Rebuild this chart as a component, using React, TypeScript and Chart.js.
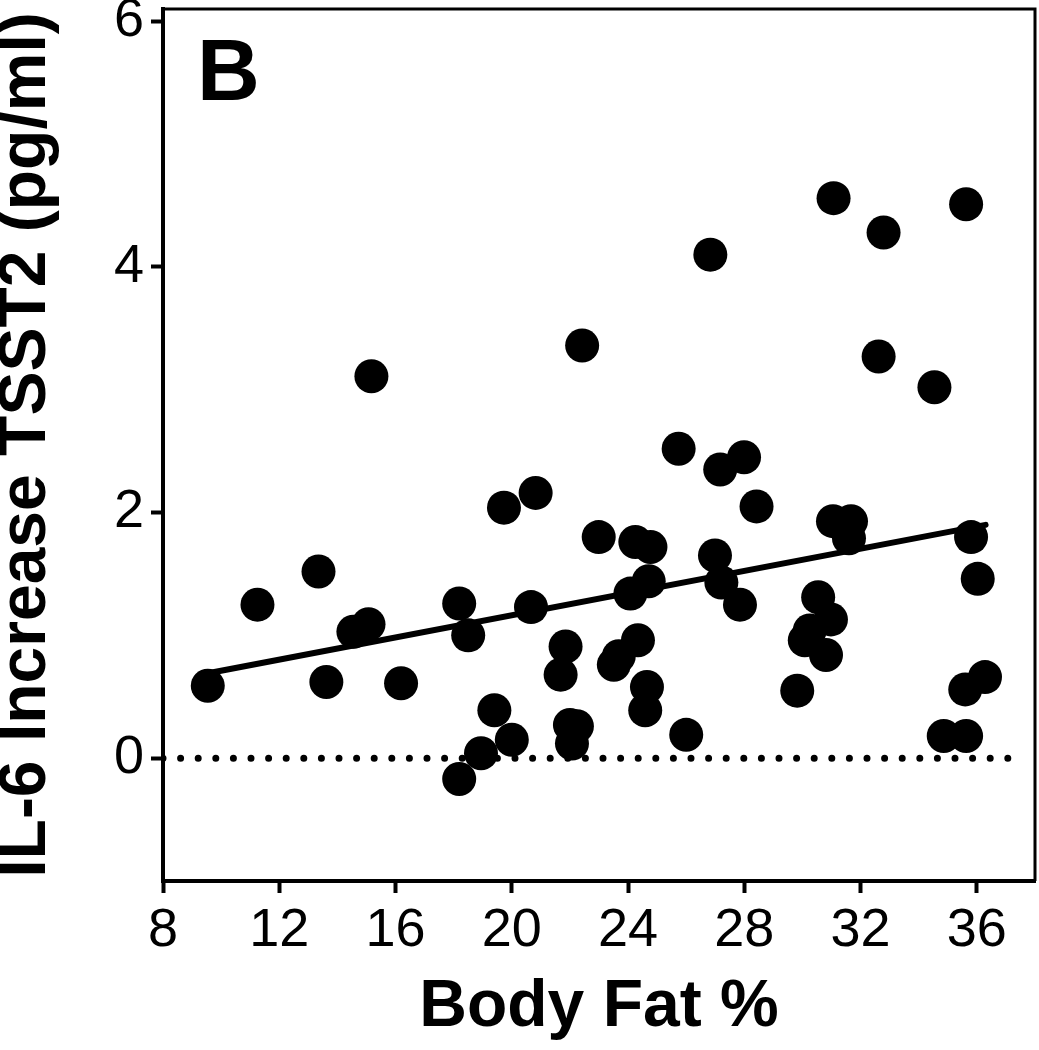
import React, { useEffect, useRef } from 'react';
import { Chart, registerables } from 'chart.js';

Chart.register(...registerables);

// ---- Data ----
const bodyFat = [
  9.54, 11.25, 13.35, 13.62, 14.55, 15.07, 15.17, 16.19, 18.19, 18.5,
  18.19, 18.94, 19.4, 19.73, 20.0, 20.82, 20.66, 21.85, 21.68, 22.0,
  22.24, 22.07, 22.99, 22.42, 23.51, 23.68, 24.08, 24.71, 24.25, 24.77,
  24.34, 24.65, 24.59, 26.0, 25.74, 26.99, 27.21, 27.85, 28.42, 27.17,
  27.99, 26.83, 29.82, 30.54, 30.25, 30.98, 30.81, 30.08, 31.05, 31.67,
  31.6, 31.07, 32.79, 35.63, 32.62, 34.54, 35.8, 36.03, 36.28, 35.6,
  34.86, 35.63,
];
const il6Increase = [
  0.59, 1.25, 1.52, 0.62, 1.03, 1.09, 3.11, 0.61, 1.26, 1.0,
  -0.17, 0.04, 0.39, 2.04, 0.15, 2.16, 1.23, 0.91, 0.68, 0.27,
  0.26, 0.12, 1.8, 3.36, 0.76, 0.83, 1.34, 1.44, 1.76, 1.72,
  0.96, 0.58, 0.39, 0.19, 2.52, 1.65, 1.43, 1.25, 2.05, 2.35,
  2.45, 4.1, 0.55, 1.31, 1.04, 1.13, 0.84, 0.96, 1.93, 1.93,
  1.79, 4.56, 4.28, 4.51, 3.27, 3.02, 1.8, 1.46, 0.66, 0.56,
  0.18, 0.18,
];
const fitX = [9.5, 36.3];
const fitY = [0.69, 1.9];
const zeroX = [8, 37.47];
const zeroY = [0, 0];
const xTicks = [8, 12, 16, 20, 24, 28, 32, 36];
const yTicks = [0, 2, 4, 6];
const xTitle = 'Body Fat %';
const yTitle = 'IL-6 Increase TSST2 (pg/ml)';
const panelLabel = 'B';

const FONT = '"Liberation Sans", Arial, Helvetica, sans-serif';

const framePlugin = {
  id: 'frameAndLabel',
  afterDraw(chart: any) {
    const { ctx, chartArea } = chart;
    ctx.save();
    ctx.strokeStyle = '#000';
    ctx.lineWidth = 3;
    ctx.beginPath();
    ctx.moveTo(chartArea.left, chartArea.top);
    ctx.lineTo(chartArea.right + 1.5, chartArea.top);
    ctx.moveTo(chartArea.right, chartArea.top);
    ctx.lineTo(chartArea.right, chartArea.bottom);
    ctx.stroke();
    ctx.fillStyle = '#000';
    ctx.font = 'bold 87px ' + FONT;
    ctx.textAlign = 'left';
    ctx.textBaseline = 'alphabetic';
    ctx.fillText(panelLabel, 197, 100);
    ctx.restore();
  },
};

const zeroPad = (s: any) => {
  s.paddingTop = 0;
  s.paddingBottom = 0;
  s.paddingLeft = 0;
  s.paddingRight = 0;
};

export default function App() {
  const ref = useRef<HTMLCanvasElement | null>(null);
  useEffect(() => {
    if (!ref.current) return;
    const chart = new Chart(ref.current, {
      type: 'scatter',
      data: {
        datasets: [
          {
            label: 'zero',
            data: zeroX.map((x, i) => ({ x, y: zeroY[i] })),
            showLine: true,
            borderColor: '#000',
            borderWidth: 7,
            borderDash: [0, 17.6],
            borderCapStyle: 'round',
            pointRadius: 0,
            pointHoverRadius: 0,
          } as any,
          {
            label: 'IL-6',
            data: bodyFat.map((x, i) => ({ x, y: il6Increase[i] })),
            backgroundColor: '#000',
            borderColor: '#000',
            borderWidth: 0,
            pointRadius: 17,
            pointHoverRadius: 17,
          },
          {
            label: 'fit',
            data: fitX.map((x, i) => ({ x, y: fitY[i] })),
            showLine: true,
            borderColor: '#000',
            borderWidth: 6,
            borderCapStyle: 'round',
            pointRadius: 0,
            pointHoverRadius: 0,
          } as any,
        ],
      },
      options: {
        animation: false,
        responsive: false,
        devicePixelRatio: 1,
        layout: { autoPadding: false, padding: { top: 9, right: 4, left: 0, bottom: 0 } },
        plugins: { legend: { display: false }, tooltip: { enabled: false } },
        scales: {
          x: {
            type: 'linear',
            min: 8,
            max: 38,
            afterBuildTicks: (s: any) => {
              s.ticks = xTicks.map((v) => ({ value: v }));
            },
            afterFit: (s: any) => {
              s.height = 169;
              zeroPad(s);
            },
            ticks: {
              font: { size: 54, family: FONT },
              color: '#000',
              padding: 6,
              maxRotation: 0,
              autoSkip: false,
            },
            grid: {
              display: true,
              drawOnChartArea: false,
              drawTicks: true,
              tickLength: 12,
              tickWidth: 4,
              tickColor: '#000',
            },
            border: { display: true, width: 4, color: '#000' },
            title: {
              display: true,
              text: xTitle,
              color: '#000',
              font: { size: 66, weight: 'bold', family: FONT, lineHeight: 0.8 },
              padding: { top: 0, bottom: 16 },
            },
          },
          y: {
            type: 'linear',
            min: -1,
            max: 6.1,
            afterBuildTicks: (s: any) => {
              s.ticks = yTicks.map((v) => ({ value: v }));
            },
            afterFit: (s: any) => {
              s.width = 163;
              zeroPad(s);
            },
            ticks: {
              font: { size: 54, family: FONT },
              color: '#000',
              padding: 7,
              autoSkip: false,
            },
            grid: {
              display: true,
              drawOnChartArea: false,
              drawTicks: true,
              tickLength: 12,
              tickWidth: 4,
              tickColor: '#000',
            },
            border: { display: true, width: 4, color: '#000' },
            title: {
              display: true,
              text: yTitle,
              color: '#000',
              font: { size: 66, weight: 'bold', family: FONT, lineHeight: 0.8 },
              padding: { top: 0, bottom: 0 },
            },
          },
        },
      } as any,
      plugins: [framePlugin],
    });
    return () => chart.destroy();
  }, []);
  return (
    <div style={{ position: 'fixed', left: 0, top: 0, width: 1039, height: 1050, background: '#fff' }}>
      <canvas ref={ref} width={1039} height={1050} style={{ width: 1039, height: 1050, display: 'block' }} />
    </div>
  );
}
